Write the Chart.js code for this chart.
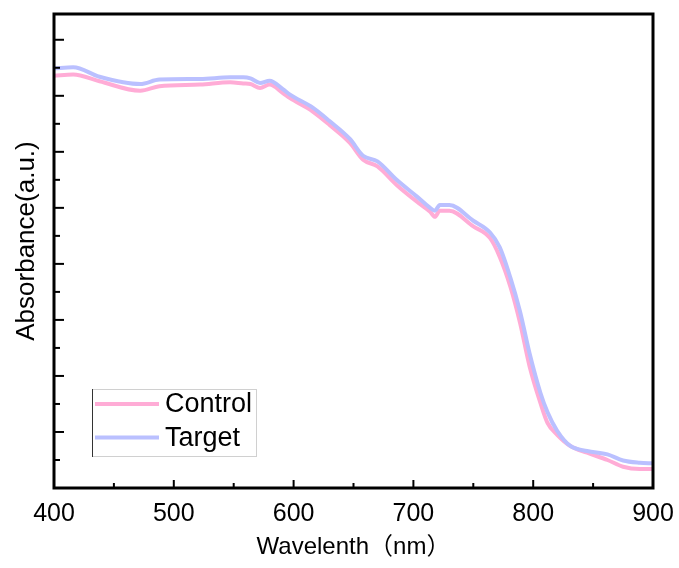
<!DOCTYPE html>
<html>
<head>
<meta charset="utf-8">
<script src="https://cdn.jsdelivr.net/npm/chart.js@4"></script>
<style>
  html, body { margin: 0; padding: 0; background: #fff; }
  canvas { display: block; }
</style>
</head>
<body>
<canvas id="chart" width="679" height="568"></canvas>
<script>
// values (wavelength in nm, absorbance in arbitrary units)
const wavelengths = [400, 416, 438, 472, 488, 522, 547, 558, 564, 572, 580, 591, 597, 616, 630, 647, 658, 670, 686, 703, 714, 718, 722, 730, 750, 764, 772, 781, 789, 797, 806, 812, 820, 831, 845, 862, 875, 889, 900];
const controlAbs = [7.36, 7.38, 7.26, 7.09, 7.17, 7.20, 7.24, 7.22, 7.21, 7.14, 7.20, 7.05, 6.96, 6.72, 6.48, 6.16, 5.86, 5.74, 5.41, 5.11, 4.93, 4.84, 4.95, 4.95, 4.67, 4.46, 4.13, 3.59, 2.95, 2.17, 1.52, 1.16, 0.95, 0.75, 0.63, 0.50, 0.38, 0.34, 0.34];
const targetAbs = [7.49, 7.51, 7.34, 7.21, 7.29, 7.30, 7.33, 7.33, 7.31, 7.23, 7.27, 7.12, 7.02, 6.79, 6.55, 6.23, 5.93, 5.83, 5.50, 5.20, 5.00, 4.95, 5.05, 5.05, 4.77, 4.56, 4.30, 3.75, 3.15, 2.40, 1.70, 1.35, 1.02, 0.75, 0.66, 0.60, 0.49, 0.45, 0.44];
const seriesNames = ['Control', 'Target'];
const xTickLabels = [400, 500, 600, 700, 800, 900];
const yTitle = 'Absorbance(a.u.)';

const pink = 'rgb(255, 172, 214)';
const blue = 'rgb(186, 192, 255)';
const fontFamily = '"Liberation Sans", Arial, "Noto Sans CJK SC", sans-serif';

function toPoints(values) {
    return wavelengths.map((w, i) => ({ x: w, y: values[i] }));
}

// inward tick marks, frame, y title and the boxed legend
const framePlugin = {
    id: 'frame',
    afterDraw(chart) {
        const ctx = chart.ctx;
        const area = chart.chartArea;
        const xs = chart.scales.x;
        const ys = chart.scales.y;
        ctx.save();
        ctx.strokeStyle = '#000';
        ctx.lineWidth = 2;
        xs.ticks.forEach(t => {
            if (t.value <= xs.min || t.value >= xs.max) return;
            const px = xs.getPixelForValue(t.value);
            const len = t.value % 100 === 0 ? 8 : 5;
            ctx.beginPath();
            ctx.moveTo(px, area.bottom);
            ctx.lineTo(px, area.bottom - len);
            ctx.stroke();
        });
        ys.ticks.forEach(t => {
            if (t.value <= ys.min || t.value >= ys.max) return;
            const py = ys.getPixelForValue(t.value);
            const len = t.value % 1 === 0 ? 10 : 6;
            ctx.beginPath();
            ctx.moveTo(area.left, py);
            ctx.lineTo(area.left + len, py);
            ctx.stroke();
        });
        ctx.lineWidth = 3;
        ctx.strokeRect(area.left, area.top, area.right - area.left, area.bottom - area.top);

        // y axis title
        ctx.save();
        ctx.translate(27, 241);
        ctx.rotate(-Math.PI / 2);
        ctx.font = '26px ' + fontFamily;
        ctx.fillStyle = '#000';
        ctx.textAlign = 'center';
        ctx.textBaseline = 'middle';
        ctx.fillText(yTitle, 0, 0);
        ctx.restore();

        // legend
        const lx = area.left + 38;
        const ly = 389;
        const lw = 164;
        const lh = 67;
        ctx.lineWidth = 1;
        ctx.strokeStyle = '#d0d0d0';
        ctx.strokeRect(lx + 0.5, ly + 0.5, lw, lh);
        ctx.strokeStyle = '#333';
        ctx.beginPath();
        ctx.moveTo(lx + 0.5, ly);
        ctx.lineTo(lx + 0.5, ly + lh + 1);
        ctx.stroke();
        ctx.font = '27px ' + fontFamily;
        ctx.textBaseline = 'middle';
        ctx.fillStyle = '#000';
        chart.data.datasets.forEach((ds, i) => {
            const y = ly + 15 + i * 33.5;
            ctx.strokeStyle = ds.borderColor;
            ctx.lineWidth = 4;
            ctx.beginPath();
            ctx.moveTo(lx + 3, y);
            ctx.lineTo(lx + 67, y);
            ctx.stroke();
            ctx.fillText(ds.label, lx + 73, y + 1);
        });
        ctx.restore();
    }
};

new Chart(document.getElementById('chart'), {
    type: 'line',
    data: {
        datasets: [
            { label: seriesNames[0], data: toPoints(controlAbs), borderColor: pink, order: 1 },
            { label: seriesNames[1], data: toPoints(targetAbs), borderColor: blue, order: 0 }
        ]
    },
    options: {
        responsive: false,
        animation: false,
        layout: { padding: { top: 14, right: 26, left: 0, bottom: 0 } },
        elements: {
            point: { radius: 0 },
            line: { borderWidth: 4, cubicInterpolationMode: 'monotone', fill: false }
        },
        plugins: {
            legend: { display: false },
            tooltip: { enabled: false }
        },
        scales: {
            x: {
                type: 'linear',
                min: 400,
                max: 900,
                grid: { display: false, drawTicks: false },
                border: { display: false },
                ticks: {
                    stepSize: 50,
                    padding: 11,
                    color: '#000',
                    font: { family: fontFamily, size: 25 },
                    autoSkip: false,
                    maxRotation: 0,
                    callback: v => xTickLabels.includes(v) ? String(v) : ''
                },
                title: {
                    display: true,
                    text: 'Wavelenth（nm）',
                    color: '#000',
                    font: { family: fontFamily, size: 24 },
                    padding: { top: 0, bottom: 6 }
                },
                afterFit(scale) {
                    scale.height = 80;
                    scale.paddingLeft = 0;
                    scale.paddingRight = 0;
                }
            },
            y: {
                min: 0,
                max: 8.46,
                grid: { display: false, drawTicks: false },
                border: { display: false },
                ticks: { stepSize: 0.5, display: false },
                afterFit(scale) { scale.width = 54; }
            }
        }
    },
    plugins: [framePlugin]
});
</script>
</body>
</html>
